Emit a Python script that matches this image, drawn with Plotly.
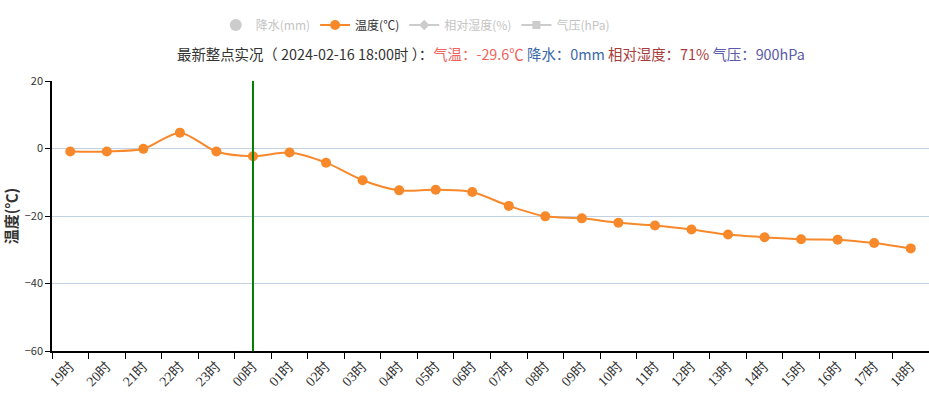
import plotly.graph_objects as go

hours = ["19时", "20时", "21时", "22时", "23时", "00时", "01时", "02时", "03时", "04时", "05时", "06时",
         "07时", "08时", "09时", "10时", "11时", "12时", "13时", "14时", "15时", "16时", "17时", "18时"]
temperature = [-0.9, -0.9, -0.1, 4.7, -0.9, -2.3, -1.2, -4.2, -9.4, -12.4, -12.2, -12.9,
               -17.0, -20.1, -20.7, -22.0, -22.8, -24.0, -25.5, -26.3, -26.9, -27.0, -28.0, -29.6]
marker_hour = "00时"
y_ticks = [-60, -40, -20, 0, 20]

FONT = "Noto Sans CJK SC, Noto Sans, sans-serif"
ORANGE = "#f7892b"
GREY = "#cccccc"

fig = go.Figure()

# inactive legend entries
fig.add_trace(go.Scatter(x=[hours[0]], y=[None], mode="markers", name='<span style="color:#c4c4c4">降水(mm)</span>',
                         marker=dict(color=GREY, size=12, symbol="circle")))
fig.add_trace(go.Scatter(x=hours, y=temperature, mode="lines+markers", name="温度(℃)",
                         line=dict(color=ORANGE, width=2, shape="spline", smoothing=0.8),
                         marker=dict(color=ORANGE, size=10)))
fig.add_trace(go.Scatter(x=[hours[0]], y=[None], mode="lines+markers", name='<span style="color:#c4c4c4">相对湿度(%)</span>',
                         line=dict(color=GREY, width=2), marker=dict(color=GREY, size=8, symbol="diamond")))
fig.add_trace(go.Scatter(x=[hours[0]], y=[None], mode="lines+markers", name='<span style="color:#c4c4c4">气压(hPa)</span>',
                         line=dict(color=GREY, width=2), marker=dict(color=GREY, size=8, symbol="square")))

fig.add_shape(type="line", xref="x", yref="paper", x0=marker_hour, x1=marker_hour, y0=0, y1=1,
              line=dict(color="#008000", width=2))

subtitle = ('<span style="color:#333333">最新整点实况（ 2024-02-16 18:00时 ）：</span>'
            '<span style="color:#f0645c">气温：-29.6℃</span> '
            '<span style="color:#3a6aa8">降水：0mm</span> '
            '<span style="color:#a83c3c">相对湿度：71%</span> '
            '<span style="color:#5a5aa8">气压：900hPa</span>')
fig.add_annotation(text=subtitle, xref="paper", yref="paper", x=0.5, y=1, yshift=15,
                   xanchor="center", yanchor="bottom", showarrow=False,
                   font=dict(family=FONT, size=14.4, color="#333333"))

fig.update_layout(
    width=929, height=397,
    margin=dict(l=52, r=0, t=81, b=46, autoexpand=False),
    paper_bgcolor="white", plot_bgcolor="white",
    font=dict(family=FONT, size=12, color="#333333"),
    showlegend=True,
    legend=dict(orientation="h", xref="container", yref="container", x=0.447, xanchor="center",
                y=0.937, yanchor="middle",
                font=dict(family=FONT, size=12, color="#333333"), itemwidth=30,
                tracegroupgap=0, bgcolor="rgba(0,0,0,0)"),
    xaxis=dict(type="category", categoryorder="array", categoryarray=hours, range=[-0.5, len(hours) - 0.5],
               showgrid=False, showline=True, linecolor="#000000", linewidth=1.5, automargin=False,
               ticks="outside", tickson="boundaries", ticklen=6, tickcolor="#000000",
               tickangle=-45, tickfont=dict(family="Liberation Serif, Noto Sans CJK SC, serif", size=14, color="#333333")),
    yaxis=dict(range=[-60, 20], tickvals=y_ticks, showgrid=True, gridcolor="#c3d2e3", gridwidth=1,
               zeroline=False, showline=True, linecolor="#000000", linewidth=1.5, automargin=False,
               ticks="outside", ticklen=5, tickcolor="#000000",
               tickfont=dict(family=FONT, size=11, color="#333333"),
               title=dict(text="<b>温度(℃)</b>", font=dict(family=FONT, size=15, color="#333333"), standoff=8)),
)

fig.write_html("out.html", config={"displayModeBar": False},
               post_script="document.body.style.margin='0';document.body.style.overflow='hidden';")
